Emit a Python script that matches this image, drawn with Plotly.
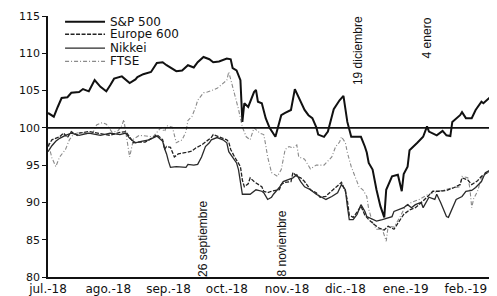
import plotly.graph_objects as go

# ---------------- data ----------------
sp_dates = ["2018-07-01","2018-07-04","2018-07-06","2018-07-08","2018-07-11","2018-07-13","2018-07-17","2018-07-19",
            "2018-07-22","2018-07-25","2018-07-28","2018-07-31","2018-08-02","2018-08-04","2018-08-08","2018-08-10",
            "2018-08-12","2018-08-15","2018-08-16","2018-08-19","2018-08-23","2018-08-26","2018-08-29","2018-08-31",
            "2018-09-05","2018-09-08","2018-09-11","2018-09-14","2018-09-16","2018-09-19","2018-09-22","2018-09-24",
            "2018-09-27","2018-10-01","2018-10-03","2018-10-04","2018-10-06","2018-10-08","2018-10-09","2018-10-10",
            "2018-10-12","2018-10-15","2018-10-16","2018-10-17","2018-10-19","2018-10-21","2018-10-23","2018-10-26",
            "2018-10-29","2018-10-31","2018-11-03","2018-11-05","2018-11-07","2018-11-10","2018-11-12","2018-11-14",
            "2018-11-16","2018-11-17","2018-11-20","2018-11-22","2018-11-25","2018-11-28","2018-11-30","2018-12-02",
            "2018-12-04","2018-12-09","2018-12-11","2018-12-12","2018-12-13","2018-12-15","2018-12-17","2018-12-19",
            "2018-12-21","2018-12-22","2018-12-25","2018-12-28","2018-12-30","2018-12-31","2019-01-02","2019-01-03",
            "2019-01-07","2019-01-10","2019-01-12","2019-01-13","2019-01-17","2019-01-20","2019-01-22","2019-01-24",
            "2019-01-25","2019-01-29","2019-01-30","2019-02-01","2019-02-04","2019-02-06","2019-02-09","2019-02-10",
            "2019-02-13","2019-02-16"]
sp_values = [102.0,101.5,102.8,104.0,104.1,104.7,104.8,105.2,
             104.9,106.4,105.5,104.9,105.7,106.6,106.9,106.4,
             106.0,106.5,106.8,107.2,107.5,108.7,108.8,108.4,
             107.6,107.7,108.4,108.1,108.8,109.5,109.2,108.8,
             108.9,109.3,109.2,108.0,107.7,106.4,100.8,103.3,
             102.8,104.8,105.1,103.5,103.3,101.3,100.0,98.8,
             101.7,102.0,102.4,105.2,104.1,102.4,101.7,101.3,
             100.1,99.1,98.8,99.5,102.5,103.7,104.3,100.8,
             98.8,98.8,97.5,96.7,95.3,94.4,91.7,89.5,
             88.0,91.7,93.5,93.7,91.5,93.8,94.8,97.0,
             98.0,98.8,100.2,99.5,99.0,99.6,99.0,98.9,
             100.8,101.7,102.1,101.3,101.3,102.4,103.5,103.3,
             104.0,104.7]

eu_dates = ["2018-07-01","2018-07-03","2018-07-07","2018-07-09","2018-07-11","2018-07-13","2018-07-16","2018-07-17",
            "2018-07-22","2018-07-28","2018-08-02","2018-08-07","2018-08-10","2018-08-12","2018-08-14","2018-08-17",
            "2018-08-20","2018-08-24","2018-08-26","2018-08-29","2018-08-30","2018-08-31","2018-09-02","2018-09-04",
            "2018-09-06","2018-09-10","2018-09-13","2018-09-15","2018-09-18","2018-09-20","2018-09-23","2018-09-24",
            "2018-09-26","2018-09-28","2018-10-01","2018-10-02","2018-10-03","2018-10-05","2018-10-06","2018-10-08",
            "2018-10-09","2018-10-10","2018-10-12","2018-10-13","2018-10-15","2018-10-17","2018-10-19","2018-10-20",
            "2018-10-22","2018-10-24","2018-10-28","2018-10-29","2018-10-31","2018-11-03","2018-11-04","2018-11-06",
            "2018-11-08","2018-11-10","2018-11-11","2018-11-13","2018-11-16","2018-11-18","2018-11-21","2018-11-22",
            "2018-11-26","2018-11-29","2018-12-01","2018-12-02","2018-12-03","2018-12-05","2018-12-07","2018-12-09",
            "2018-12-11","2018-12-13","2018-12-16","2018-12-18","2018-12-21","2018-12-23","2018-12-26","2018-12-29",
            "2018-12-31","2019-01-03","2019-01-06","2019-01-10","2019-01-15","2019-01-18","2019-01-22","2019-01-26",
            "2019-01-29","2019-01-30","2019-02-02","2019-02-04","2019-02-07","2019-02-09","2019-02-12","2019-02-14",
            "2019-02-17"]
eu_values = [97.5,98.4,98.8,99.3,98.7,99.5,99.0,99.3,
             99.5,99.2,99.0,99.4,99.5,98.8,98.0,98.1,
             98.1,98.7,99.1,98.4,97.1,97.5,97.4,96.1,
             96.5,96.7,96.9,97.3,97.7,98.1,98.7,99.1,
             98.9,98.8,98.4,98.1,97.1,96.1,95.7,94.8,
             93.0,92.1,92.5,93.3,92.8,92.4,92.1,91.5,
             91.3,91.5,91.7,92.4,92.7,92.8,94.0,93.5,
             93.3,92.8,92.4,91.7,91.3,90.7,90.8,91.1,
             92.0,92.7,91.5,90.3,88.3,88.0,88.7,89.5,
             88.3,87.7,87.0,86.6,86.3,86.8,86.4,87.5,
             88.4,89.0,89.3,90.2,91.5,91.5,91.6,92.0,
             92.4,93.3,93.0,92.4,92.9,93.5,94.0,94.4,
             94.8]

nk_dates = ["2018-07-01","2018-07-03","2018-07-05","2018-07-07","2018-07-10","2018-07-13","2018-07-17","2018-07-22",
            "2018-07-28","2018-08-02","2018-08-07","2018-08-10","2018-08-12","2018-08-15","2018-08-18","2018-08-22",
            "2018-08-26","2018-08-29","2018-08-30","2018-08-31","2018-09-01","2018-09-02","2018-09-05","2018-09-08",
            "2018-09-10","2018-09-11","2018-09-14","2018-09-16","2018-09-18","2018-09-20","2018-09-22","2018-09-23",
            "2018-09-26","2018-09-29","2018-10-01","2018-10-02","2018-10-04","2018-10-06","2018-10-07","2018-10-08",
            "2018-10-09","2018-10-13","2018-10-16","2018-10-19","2018-10-20","2018-10-22","2018-10-24","2018-10-25",
            "2018-10-28","2018-10-30","2018-11-02","2018-11-04","2018-11-06","2018-11-08","2018-11-10","2018-11-13",
            "2018-11-16","2018-11-18","2018-11-21","2018-11-24","2018-11-27","2018-11-29","2018-12-01","2018-12-02",
            "2018-12-03","2018-12-05","2018-12-07","2018-12-09","2018-12-11","2018-12-12","2018-12-15","2018-12-17",
            "2018-12-20","2018-12-25","2018-12-26","2018-12-29","2018-12-31","2019-01-02","2019-01-04","2019-01-06",
            "2019-01-09","2019-01-10","2019-01-13","2019-01-16","2019-01-17","2019-01-19","2019-01-22","2019-01-23",
            "2019-01-25","2019-01-27","2019-01-30","2019-02-01","2019-02-04","2019-02-06","2019-02-09","2019-02-11",
            "2019-02-14","2019-02-17"]
nk_values = [96.8,97.6,98.2,98.6,99.0,99.3,99.0,99.3,
             99.0,99.3,99.1,99.3,98.6,98.0,98.2,98.4,
             98.9,98.2,97.2,96.5,95.5,94.7,94.8,94.7,
             94.7,95.1,95.0,95.1,96.1,97.5,98.0,98.4,
             98.7,98.4,98.0,96.8,96.0,95.3,94.4,92.5,
             91.1,91.1,91.7,91.5,91.3,90.4,90.7,91.1,
             92.0,92.8,93.1,93.3,93.7,92.8,92.1,91.7,
             91.1,90.8,90.4,90.8,91.3,92.4,91.7,89.5,
             87.7,87.7,88.4,89.7,88.8,88.1,87.7,87.5,
             87.7,88.1,88.8,89.1,89.3,89.7,89.3,89.7,
             90.0,89.3,90.7,90.4,91.1,90.0,88.1,88.0,
             89.1,90.4,90.8,91.5,91.6,92.0,92.8,94.0,
             94.4,94.8]

ft_dates = ["2018-07-01","2018-07-03","2018-07-05","2018-07-07","2018-07-10","2018-07-12","2018-07-14","2018-07-17",
            "2018-07-21","2018-07-24","2018-07-26","2018-07-29","2018-07-31","2018-08-03","2018-08-06","2018-08-08",
            "2018-08-09","2018-08-10","2018-08-11","2018-08-12","2018-08-14","2018-08-17","2018-08-24","2018-08-28",
            "2018-08-30","2018-08-31","2018-09-03","2018-09-05","2018-09-08","2018-09-10","2018-09-11","2018-09-13",
            "2018-09-15","2018-09-16","2018-09-19","2018-09-21","2018-09-26","2018-10-01","2018-10-02","2018-10-05",
            "2018-10-07","2018-10-09","2018-10-11","2018-10-13","2018-10-15","2018-10-18","2018-10-20","2018-10-21",
            "2018-10-22","2018-10-24","2018-10-27","2018-10-29","2018-10-30","2018-10-31","2018-11-02","2018-11-04",
            "2018-11-06","2018-11-07","2018-11-10","2018-11-13","2018-11-16","2018-11-20","2018-11-24","2018-11-26",
            "2018-11-28","2018-11-29","2018-12-01","2018-12-02","2018-12-04","2018-12-06","2018-12-08","2018-12-10",
            "2018-12-12","2018-12-13","2018-12-15","2018-12-17","2018-12-20","2018-12-22","2018-12-23","2018-12-26",
            "2018-12-29","2019-01-01","2019-01-04","2019-01-08","2019-01-12","2019-01-15","2019-01-18","2019-01-22",
            "2019-01-26","2019-01-29","2019-01-30","2019-02-02","2019-02-03","2019-02-04","2019-02-05","2019-02-07",
            "2019-02-09","2019-02-12","2019-02-14","2019-02-17"]
ft_values = [98.0,96.0,94.8,96.1,97.1,98.4,99.1,99.4,
             99.2,99.3,100.4,100.7,100.5,99.4,99.6,100.3,
             101.1,99.3,97.5,96.1,98.5,99.0,98.8,100.0,
             99.5,100.3,100.1,98.0,98.4,99.5,101.0,101.5,
             102.8,103.7,104.7,104.8,105.3,106.4,107.5,104.5,
             102.5,100.1,98.8,98.4,100.0,99.3,99.1,97.7,
             96.1,94.0,93.5,94.4,95.7,97.1,97.5,97.3,
             97.7,96.1,95.8,94.5,95.0,95.0,96.1,97.5,
             98.1,98.8,98.0,96.7,94.8,93.3,92.1,91.7,
             90.8,89.1,87.3,86.4,86.4,84.8,86.8,86.7,
             88.0,89.5,90.0,90.4,91.0,91.3,91.5,91.8,
             92.0,92.1,93.5,93.3,92.0,89.3,90.5,91.5,
             93.3,94.0,94.1,94.7]

series_names = ["S&P 500", "Europe 600", "Nikkei", "FTSE"]
month_ticks = ["2018-07-01","2018-08-01","2018-09-01","2018-10-01","2018-11-01","2018-12-01","2019-01-01","2019-02-01"]
month_labels = ["jul.-18","ago.-18","sep.-18","oct.-18","nov.-18","dic.-18","ene.-19","feb.-19"]
y_ticks = [80, 85, 90, 95, 100, 105, 110, 115]
events = ["26 septiembre", "8 noviembre", "19 diciembre", "4 enero"]

# ---------------- styles ----------------
styles = [
    dict(color="#111111", width=2.0, dash="solid"),
    dict(color="#222222", width=1.3, dash="4px,1.5px"),
    dict(color="#2a2a2a", width=1.3, dash="solid"),
    dict(color="#8a8a8a", width=1.1, dash="4px,2px,1px,2px"),
]
all_x = [sp_dates, eu_dates, nk_dates, ft_dates]
all_y = [sp_values, eu_values, nk_values, ft_values]

fig = go.Figure()
for i in [3, 1, 2, 0]:
    fig.add_trace(go.Scatter(x=all_x[i], y=all_y[i], mode="lines", name=series_names[i],
                             line=styles[i], showlegend=False))

# baseline 100
fig.add_shape(type="line", xref="paper", x0=0, x1=1, yref="y", y0=100, y1=100,
              line=dict(color="#111111", width=1.6), layer="above")

# compact legend, as in the original
leg_y = [0.978, 0.930, 0.877, 0.826]
for i, name in enumerate(series_names):
    fig.add_shape(type="line", xref="paper", yref="paper", x0=0.038, x1=0.127,
                  y0=leg_y[i], y1=leg_y[i], line=styles[i])
    fig.add_annotation(text=name, xref="paper", yref="paper", x=0.1336, y=leg_y[i],
                       xanchor="left", yanchor="middle", showarrow=False,
                       font=dict(family="DejaVu Sans", size=12, color="#111111"))

# vertical event labels
ev_x = ["2018-09-18T17:00", "2018-10-29T10:00", "2018-12-07T12:00", "2019-01-12T00:00"]
ev_y = [85.1, 84.5, 110.3, 112.0]
for t, xx, yy in zip(events, ev_x, ev_y):
    fig.add_annotation(text=t, x=xx, y=yy, xref="x", yref="y", textangle=-90,
                       showarrow=False, xanchor="center", yanchor="middle",
                       font=dict(family="Liberation Sans Narrow, Liberation Sans", size=12, color="#111111"))

fig.update_layout(
    width=489, height=288,
    margin=dict(l=40, r=0, t=8, b=17),
    paper_bgcolor="white", plot_bgcolor="white",
    showlegend=False,
    xaxis=dict(type="date", range=["2018-07-01", "2019-02-17"],
               tickvals=month_ticks, ticktext=month_labels, tickangle=0,
               showgrid=False, zeroline=False, showline=True, linecolor="#111111", linewidth=1.5,
               ticks="", tickfont=dict(family="DejaVu Sans", size=12, color="#111111")),
    yaxis=dict(range=[80, 115], tickvals=y_ticks, showgrid=False, zeroline=False,
               showline=True, linecolor="#111111", linewidth=1.5,
               ticks="outside", ticklen=4, tickcolor="#111111",
               tickfont=dict(family="DejaVu Sans", size=11, color="#111111")),
)

fig.write_html("out.html")
